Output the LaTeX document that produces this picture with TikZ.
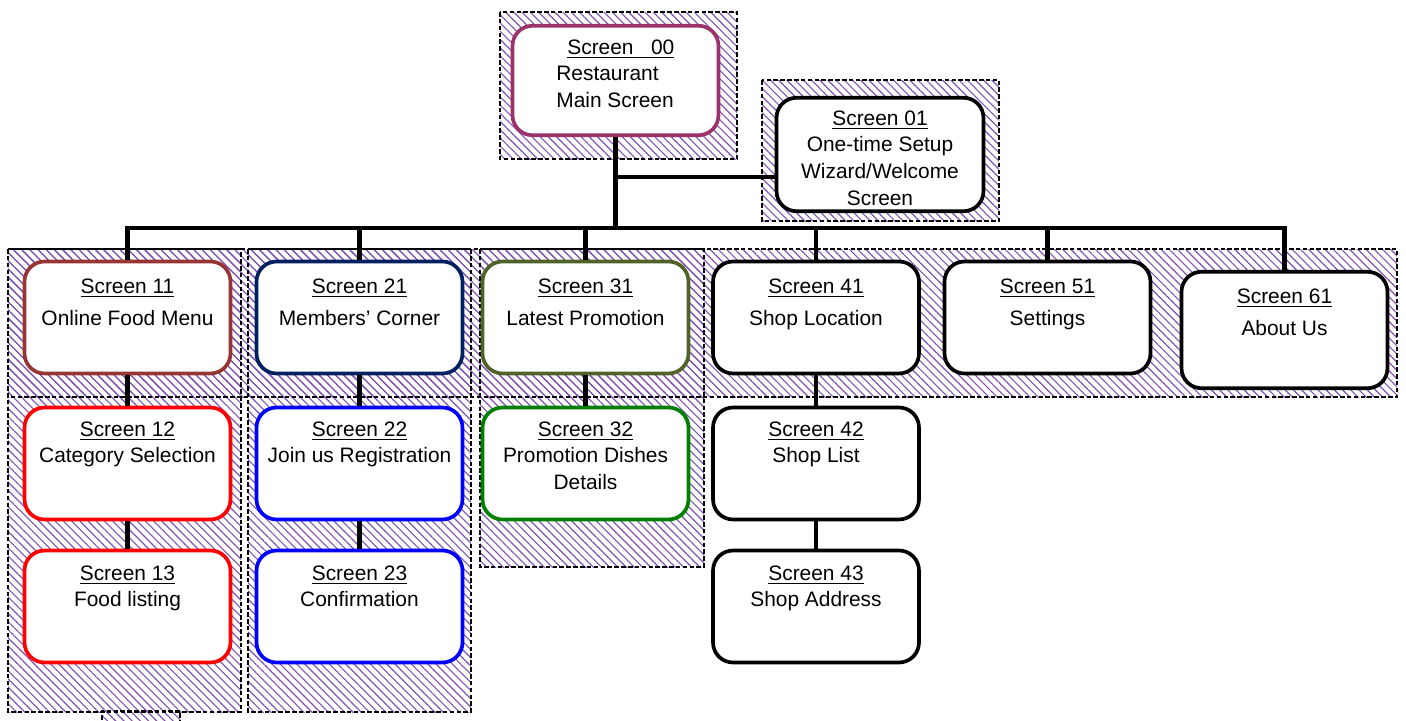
\documentclass[tikz,border=0pt]{standalone}
\usepackage{fontspec}
\setmainfont{Liberation Sans}
\usetikzlibrary{patterns.meta}
\definecolor{hatchpurple}{RGB}{128,82,178}
\definecolor{mainrose}{RGB}{155,50,105}
\definecolor{menubrown}{RGB}{150,54,52}
\definecolor{membernavy}{RGB}{0,32,96}
\definecolor{promoolive}{RGB}{79,98,40}
\definecolor{promogreen}{RGB}{0,128,0}
\tikzset{
  hatchbox/.style={pattern={Lines[angle=-45,distance=3.3pt,line width=0.65pt]}, pattern color=hatchpurple},
  hatchline/.style={line width=0.6pt, dash pattern=on 2.6pt off 1.3pt},
  scrbox/.style={draw, fill=white, rounded corners=0.4cm, line width=2.1pt, minimum width=4.12cm, minimum height=2.24cm},
  scrtext/.style={anchor=north, align=center, inner sep=0pt, font={\fontsize{11.9}{15.1}\selectfont}},
  conn/.style={line width=2.8pt}
}

\begin{document}
\begin{tikzpicture}[x=0.02cm, y=-0.02cm]
		%%%%% START %%%%%
		\useasboundingbox (0,0) rectangle (1406,720);
		
		% hatched groups
		\fill[hatchbox] (500,12) rectangle (737,159);
		\draw[hatchline] (500,12) rectangle (737,159);
		\fill[hatchbox] (762,80) rectangle (999,221);
		\draw[hatchline] (762,80) rectangle (999,221);
		\fill[hatchbox] (8,249) rectangle (1397,397);
		\fill[hatchbox] (8,249) rectangle (241,712);
		\fill[hatchbox] (248,249) rectangle (471,712);
		\fill[hatchbox] (480,249) rectangle (704,567);
		\fill[hatchbox] (102,711) rectangle (180,720);
		\draw[hatchline] (8,249) rectangle (1397,397);
		\draw[hatchline] (8,249) rectangle (241,712);
		\draw[hatchline] (248,249) rectangle (471,712);
		\draw[hatchline] (480,249) rectangle (704,567);
		\draw[hatchline] (102,720) |- (180,711) -- (180,720);
		
		% screens
		\node[scrbox, draw=mainrose, minimum height=2.19cm] (s00) at (615.5,80.5) {};
		\node[scrbox, minimum width=4.14cm, minimum height=2.27cm] (s01) at (880,154.5) {};
		
		\node[scrbox, draw=menubrown] (s11) at (127.5,317.5) {};
		\node[scrbox, draw=membernavy] (s21) at (359.5,317.5) {};
		\node[scrbox, draw=promoolive] (s31) at (585.5,317.5) {};
		\node[scrbox] (s41) at (816,317.5) {};
		\node[scrbox] (s51) at (1047.5,317.5) {};
		\node[scrbox, minimum height=2.33cm] (s61) at (1284.5,330) {};
		
		\node[scrbox, draw=red] (s12) at (127.5,463.5) {};
		\node[scrbox, draw=blue] (s22) at (359.5,463.5) {};
		\node[scrbox, draw=promogreen] (s32) at (585.5,463.5) {};
		\node[scrbox] (s42) at (816,463.5) {};
		
		\node[scrbox, draw=red] (s13) at (127.5,606.5) {};
		\node[scrbox, draw=blue] (s23) at (359.5,606.5) {};
		\node[scrbox] (s43) at (816,606.5) {};
		
		% connectors
		\coordinate (fork) at (615.5,177);
		\coordinate (bus) at (615.5,228);
		\draw[conn] (s00.south) -- (bus);
		\draw[conn] (fork) -- (fork -| s01.west);
		\draw[conn] (s11.north) -- (bus -| s11.north) -- (bus -| s61.north) -- (s61.north);
		\foreach \s in {21,31,41,51}
			\draw[conn] (bus -| s\s.north) -- (s\s.north);
		\draw[conn] (s11.south) -- (s12.north);
		\draw[conn] (s12.south) -- (s13.north);
		\draw[conn] (s21.south) -- (s22.north);
		\draw[conn] (s22.south) -- (s23.north);
		\draw[conn] (s31.south) -- (s32.north);
		\draw[conn] (s41.south) -- (s42.north);
		\draw[conn] (s42.south) -- (s43.north);
		
		% texts
		\node[scrtext, anchor=north west, align=left] (t00) at (556,39.5) {\hspace*{0.22cm}\underline{Screen\ \ \ 00}\\Restaurant\\Main Screen};
		\node[scrtext] (t01) at (880,110.5) {\underline{Screen 01}\\One-time Setup\\Wizard/Welcome\\Screen};
		
		\node[scrtext] (t11) at (127.5,278.5) {\underline{Screen 11}\\[3.1pt]Online Food Menu};
		\node[scrtext] (t21) at (359.5,278.5) {\underline{Screen 21}\\[3.1pt]Members’ Corner};
		\node[scrtext] (t31) at (585.5,278.5) {\underline{Screen 31}\\[3.1pt]Latest Promotion};
		\node[scrtext] (t41) at (816,278.5) {\underline{Screen 41}\\[3.1pt]Shop Location};
		\node[scrtext] (t51) at (1047.5,278.5) {\underline{Screen 51}\\[3.1pt]Settings};
		\node[scrtext] (t61) at (1284.5,288.5) {\underline{Screen 61}\\[3.1pt]About Us};
		
		\node[scrtext] (t12) at (127.5,421.5) {\underline{Screen 12}\\Category Selection};
		\node[scrtext] (t22) at (359.5,421.5) {\underline{Screen 22}\\Join us Registration};
		\node[scrtext] (t32) at (585.5,421.5) {\underline{Screen 32}\\Promotion Dishes\\Details};
		\node[scrtext] (t42) at (816,421.5) {\underline{Screen 42}\\Shop List};
		
		\node[scrtext] (t13) at (127.5,565.5) {\underline{Screen 13}\\Food listing};
		\node[scrtext] (t23) at (359.5,565.5) {\underline{Screen 23}\\Confirmation};
		\node[scrtext] (t43) at (816,565.5) {\underline{Screen 43}\\Shop Address};
		
		%%%%% END %%%%%
\end{tikzpicture}
\end{document}
